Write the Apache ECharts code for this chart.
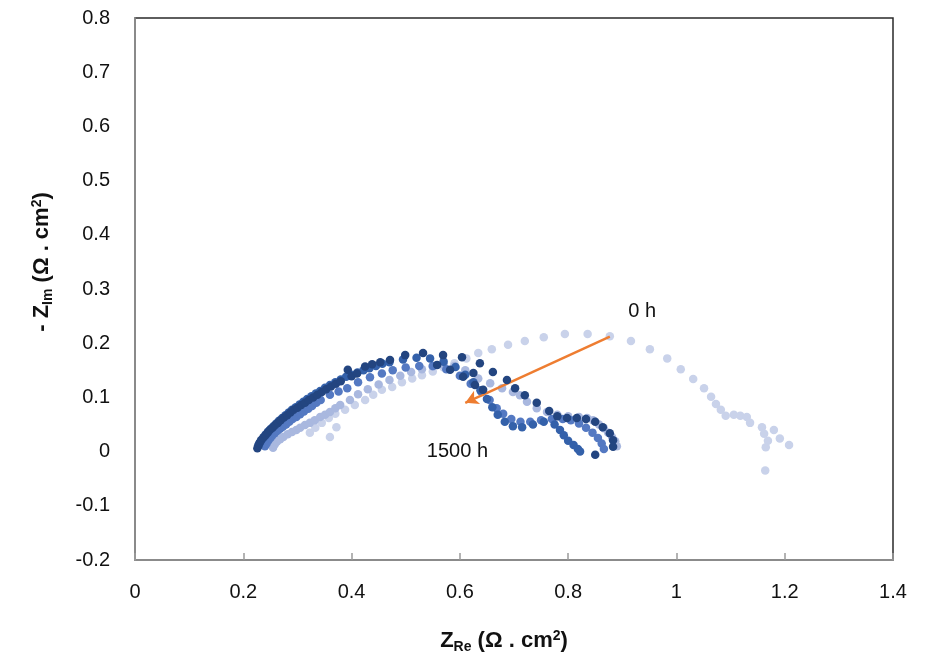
<!DOCTYPE html>
<html>
<head>
<meta charset="utf-8">
<script src="https://cdn.jsdelivr.net/npm/echarts@6/dist/echarts.min.js"></script>
<style>
  html, body { margin: 0; padding: 0; background: #fff; }
  #chart { width: 938px; height: 663px; }
</style>
</head>
<body>
<div id="chart"></div>
<script>
// Nyquist impedance spectra, [Z_Re, -Z_Im] in Ω·cm², from 0 h to 1500 h of operation
const series0h = [
  [0.323,0.035],[0.333,0.044],[0.345,0.053],[0.36,0.027],[0.372,0.045],[0.358,0.062],[0.37,0.07],
  [0.388,0.077],[0.406,0.086],[0.425,0.095],[0.44,0.105],[0.456,0.114],[0.475,0.119],[0.493,0.128],
  [0.512,0.135],[0.53,0.141],[0.55,0.148],[0.57,0.155],[0.59,0.163],[0.612,0.172],[0.634,0.182],
  [0.659,0.189],[0.689,0.197],[0.72,0.204],[0.755,0.211],[0.794,0.217],[0.836,0.217],[0.877,0.213],
  [0.916,0.204],[0.951,0.189],[0.983,0.172],[1.008,0.152],[1.031,0.134],[1.051,0.117],[1.064,0.101],
  [1.073,0.088],[1.082,0.077],[1.091,0.066],[1.106,0.068],[1.118,0.066],[1.13,0.064],[1.136,0.053],
  [1.158,0.045],[1.18,0.04],[1.162,0.033],[1.169,0.02],[1.165,0.008],[1.191,0.024],[1.208,0.012],
  [1.164,-0.035]
];
const series375h = [
  [0.255,0.007],[0.258,0.013],[0.262,0.018],[0.268,0.023],[0.274,0.027],[0.282,0.032],[0.29,0.036],
  [0.298,0.04],[0.305,0.044],[0.314,0.049],[0.323,0.053],[0.332,0.058],[0.342,0.064],[0.351,0.068],
  [0.36,0.073],[0.37,0.08],[0.379,0.086],[0.397,0.095],[0.412,0.106],[0.43,0.115],[0.45,0.124],
  [0.47,0.132],[0.49,0.14],[0.51,0.147],[0.53,0.152],[0.55,0.157],[0.57,0.16],[0.59,0.158],
  [0.61,0.15],[0.634,0.135],[0.656,0.126],[0.678,0.117],[0.698,0.11],[0.711,0.104],[0.724,0.092],
  [0.742,0.08],[0.761,0.073],[0.78,0.068],[0.8,0.065],[0.82,0.064],[0.835,0.062],[0.846,0.058],
  [0.857,0.05],[0.866,0.043],[0.874,0.035],[0.881,0.027],[0.887,0.019],[0.89,0.01]
];
const series750h = [
  [0.24,0.01],[0.243,0.015],[0.246,0.02],[0.25,0.025],[0.254,0.03],[0.258,0.034],[0.263,0.038],
  [0.268,0.042],[0.273,0.046],[0.279,0.05],[0.285,0.055],[0.291,0.06],[0.298,0.064],[0.305,0.069],
  [0.312,0.074],[0.32,0.079],[0.327,0.084],[0.335,0.09],[0.343,0.095],[0.36,0.105],[0.376,0.111],
  [0.392,0.117],[0.412,0.128],[0.434,0.137],[0.456,0.144],[0.476,0.15],[0.5,0.155],[0.525,0.158],
  [0.55,0.158],[0.575,0.152],[0.6,0.14],[0.62,0.125],[0.64,0.11],[0.655,0.095],[0.668,0.08],
  [0.68,0.07],[0.695,0.06],[0.712,0.055],[0.73,0.055],[0.75,0.058],[0.77,0.06],[0.79,0.06],
  [0.805,0.058],[0.82,0.052],[0.833,0.044],[0.845,0.035],[0.855,0.025],[0.862,0.015],[0.866,0.005]
];
const series1125h = [
  [0.228,0.012],[0.231,0.017],[0.234,0.022],[0.238,0.027],[0.242,0.032],[0.246,0.037],[0.251,0.042],
  [0.256,0.047],[0.261,0.052],[0.266,0.057],[0.272,0.062],[0.278,0.067],[0.284,0.072],[0.29,0.077],
  [0.297,0.082],[0.304,0.087],[0.311,0.092],[0.318,0.097],[0.326,0.102],[0.334,0.107],[0.342,0.112],
  [0.351,0.118],[0.36,0.123],[0.37,0.128],[0.38,0.133],[0.39,0.138],[0.4,0.142],[0.411,0.146],
  [0.422,0.15],[0.433,0.154],[0.445,0.158],[0.457,0.162],[0.47,0.165],[0.495,0.17],[0.52,0.173],
  [0.545,0.172],[0.57,0.166],[0.592,0.156],[0.61,0.142],[0.625,0.128],[0.638,0.113],[0.65,0.097],
  [0.66,0.082],[0.67,0.068],[0.683,0.055],[0.698,0.047],[0.715,0.045],[0.735,0.05],[0.755,0.055],
  [0.775,0.05],[0.785,0.04],[0.792,0.03],[0.8,0.02],[0.81,0.012],[0.818,0.005],[0.822,0.0]
];
const series1500h = [
  [0.226,0.006],[0.228,0.011],[0.23,0.016],[0.233,0.021],[0.237,0.026],[0.241,0.03],[0.245,0.035],
  [0.249,0.04],[0.254,0.044],[0.259,0.049],[0.264,0.053],[0.269,0.058],[0.275,0.063],[0.281,0.067],
  [0.287,0.072],[0.293,0.077],[0.3,0.081],[0.307,0.086],[0.314,0.09],[0.321,0.095],[0.329,0.1],
  [0.337,0.105],[0.345,0.11],[0.353,0.115],[0.362,0.12],[0.371,0.125],[0.38,0.13],[0.393,0.151],
  [0.4,0.139],[0.41,0.144],[0.425,0.157],[0.438,0.161],[0.453,0.165],[0.471,0.169],[0.499,0.178],
  [0.532,0.182],[0.558,0.16],[0.569,0.178],[0.582,0.151],[0.604,0.174],[0.606,0.138],[0.625,0.145],
  [0.637,0.163],[0.628,0.123],[0.643,0.114],[0.661,0.147],[0.687,0.132],[0.702,0.117],[0.72,0.104],
  [0.742,0.09],[0.765,0.075],[0.78,0.065],[0.798,0.062],[0.816,0.062],[0.833,0.06],[0.85,0.055],
  [0.864,0.045],[0.877,0.034],[0.883,0.021],[0.883,0.009],[0.85,-0.006]
];

const seriesNames = ['0 h', '375 h', '750 h', '1125 h', '1500 h'];
const seriesColors = ['#c9d2ea', '#a9b8df', '#5479c2', '#3461aa', '#234580'];

// Ageing arrow from the 0 h spectrum towards the 1500 h spectrum
const arrowStart = [0.877, 0.212];
const arrowEnd = [0.61, 0.09];

// Time annotations (left edge / vertical centre of the text)
const timeLabels = [
  { text: '0 h', at: [0.911, 0.258] },
  { text: '1500 h', at: [0.539, 0.0] }
];

const xTicks = { min: 0, max: 1.4, interval: 0.2 };
const yTicks = { min: -0.2, max: 0.8, interval: 0.1 };

const FONT = '"Liberation Sans", Arial, sans-serif';

const chart = echarts.init(document.getElementById('chart'), null, { renderer: 'canvas' });

const dataSets = [series0h, series375h, series750h, series1125h, series1500h];

const scatterSeries = dataSets.map((d, i) => ({
  name: seriesNames[i],
  type: 'scatter',
  data: d,
  symbol: 'circle',
  symbolSize: 8.5,
  itemStyle: { color: seriesColors[i], opacity: 1 },
  z: 2 + i,
  silent: true
}));

// Arrow carried by an empty helper series
scatterSeries.push({
  name: 'arrow',
  type: 'scatter',
  data: [],
  silent: true,
  markLine: {
    silent: true,
    animation: false,
    symbol: ['none', 'arrow'],
    symbolSize: [11, 13],
    label: { show: false },
    lineStyle: { color: '#ee7d31', width: 2.5, type: 'solid' },
    emphasis: { disabled: true },
    data: [[{ coord: arrowStart }, { coord: arrowEnd }]]
  }
});

const fmt = v => String(Math.round(v * 10) / 10);

const richTitle = {
  z: { fontFamily: FONT, fontSize: 22, fontWeight: 'bold', lineHeight: 30, verticalAlign: 'middle', fill: '#111' },
  n: { fontFamily: FONT, fontSize: 22, fontWeight: 'bold', lineHeight: 30, verticalAlign: 'middle', fill: '#111' },
  s: { fontFamily: FONT, fontSize: 14, fontWeight: 'bold', lineHeight: 30, verticalAlign: 'bottom', padding: [0, 0, 2, 0], fill: '#111' },
  p: { fontFamily: FONT, fontSize: 14, fontWeight: 'bold', lineHeight: 30, verticalAlign: 'top', padding: [3, 0, 0, 0], fill: '#111' }
};

chart.setOption({
  animation: false,
  backgroundColor: '#fff',
  grid: {
    left: 135, right: 45, top: 18, bottom: 103,
    show: true,
    borderColor: '#2a2a2a',
    borderWidth: 1.5,
    backgroundColor: 'transparent'
  },
  xAxis: {
    type: 'value',
    min: xTicks.min, max: xTicks.max, interval: xTicks.interval,
    axisLine: { show: true, onZero: false, lineStyle: { color: '#9a9a9a', width: 1.5 } },
    axisTick: { show: true, inside: true, length: 7, lineStyle: { color: '#9a9a9a', width: 1.5 } },
    splitLine: { show: false },
    axisLabel: { fontFamily: FONT, fontSize: 20, color: '#111', margin: 22, formatter: fmt }
  },
  yAxis: {
    type: 'value',
    min: yTicks.min, max: yTicks.max, interval: yTicks.interval,
    axisLine: { show: true, onZero: false, lineStyle: { color: '#9a9a9a', width: 1.5 } },
    axisTick: { show: false },
    splitLine: { show: false },
    axisLabel: { fontFamily: FONT, fontSize: 20, color: '#111', margin: 25, formatter: fmt }
  },
  series: scatterSeries
});

// Axis titles and time annotations as graphic text
const graphics = [
  {
    type: 'text',
    x: 504, y: 641,
    silent: true,
    style: {
      text: '{z|Z}{s|Re}{n| (Ω . cm}{p|2}{n|)}',
      textAlign: 'center',
      textVerticalAlign: 'middle',
      rich: richTitle
    }
  },
  {
    type: 'text',
    x: 42, y: 262,
    rotation: Math.PI / 2,
    silent: true,
    style: {
      text: '{z|- Z}{s|Im}{n| (Ω . cm}{p|2}{n|)}',
      textAlign: 'center',
      textVerticalAlign: 'middle',
      rich: richTitle
    }
  }
];
timeLabels.forEach(t => {
  const p = chart.convertToPixel({ gridIndex: 0 }, t.at);
  graphics.push({
    type: 'text',
    x: p[0], y: p[1],
    silent: true,
    z: 20,
    style: {
      text: t.text,
      fontFamily: FONT,
      fontSize: 20,
      fill: '#111',
      textAlign: 'left',
      textVerticalAlign: 'middle'
    }
  });
});
chart.setOption({ graphic: graphics });
</script>
</body>
</html>
